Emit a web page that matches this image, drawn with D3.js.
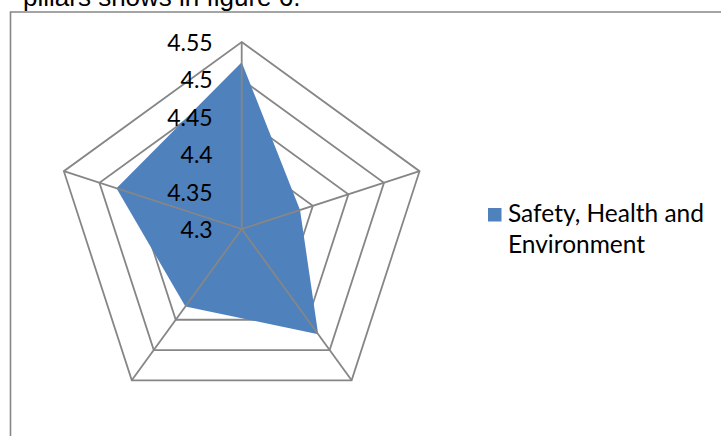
<!DOCTYPE html>
<html>
<head>
<meta charset="utf-8">
<script src="https://cdn.jsdelivr.net/npm/d3@7"></script>
<style>
  html, body { margin: 0; padding: 0; background: #fff; }
  svg { display: block; }
</style>
</head>
<body>
<svg id="chart" width="721" height="436"></svg>
<script>
// Radar chart: one series scored on five pillars
const categories = ["Pillar 1", "Pillar 2", "Pillar 3", "Pillar 4", "Pillar 5"];
const seriesName = "Safety, Health and Environment";
const seriesValues = [4.523, 4.382, 4.474, 4.428, 4.476];
const tickValues = [4.3, 4.35, 4.4, 4.45, 4.5, 4.55];
const tickLabels = ["4.3", "4.35", "4.4", "4.45", "4.5", "4.55"];
const captionText = "pillars shows in figure 6.";

const svg = d3.select("#chart");
const W = 721, H = 436;
const cx = 241.7, cy = 229, R = 187;
const gridColor = "#868686";
const fillColor = "#4F81BD";
const chartFont = "Lato, 'Open Sans', sans-serif";

// Body text line above the chart, partly cut off by the top edge
svg.append("text")
  .attr("x", 23).attr("y", 6)
  .attr("font-family", "'Liberation Sans', Arial, sans-serif")
  .attr("font-size", 26)
  .attr("fill", "#000")
  .text(captionText);

// Chart area frame
svg.append("path")
  .attr("d", `M10.5,${H + 2} V12 H${W + 2}`)
  .attr("fill", "none")
  .attr("stroke", gridColor)
  .attr("stroke-width", 1.6);

const r = d3.scaleLinear()
  .domain([tickValues[0], tickValues[tickValues.length - 1]])
  .range([0, R]);

const angle = d3.scalePoint()
  .domain(categories)
  .range([0, 2 * Math.PI * (categories.length - 1) / categories.length]);

const g = svg.append("g").attr("transform", `translate(${cx},${cy})`);

const radial = d3.lineRadial()
  .angle(d => angle(d.cat))
  .radius(d => r(d.v))
  .curve(d3.curveLinearClosed);

// Concentric pentagon gridlines (drawn under the series fill)
g.selectAll("path.ring")
  .data(tickValues.slice(1))
  .join("path")
  .attr("class", "ring")
  .attr("d", t => radial(categories.map(c => ({ cat: c, v: t }))))
  .attr("fill", "none")
  .attr("stroke", gridColor)
  .attr("stroke-width", 1.8);

// Filled series area
g.append("path")
  .datum(categories.map((c, i) => ({ cat: c, v: seriesValues[i] })))
  .attr("d", radial)
  .attr("fill", fillColor)
  .attr("stroke", "none");

// Spokes from centre to the outer ring
const maxV = tickValues[tickValues.length - 1];
g.selectAll("line.spoke")
  .data(categories)
  .join("line")
  .attr("class", "spoke")
  .attr("x1", 0).attr("y1", 0)
  .attr("x2", c => r(maxV) * Math.sin(angle(c)))
  .attr("y2", c => -r(maxV) * Math.cos(angle(c)))
  .attr("stroke", gridColor)
  .attr("stroke-width", 1.8);

// Value axis labels along the top spoke
g.selectAll("text.tick")
  .data(tickValues)
  .join("text")
  .attr("class", "tick")
  .attr("x", -29)
  .attr("y", t => -r(t) + 9)
  .attr("text-anchor", "end")
  .attr("font-family", chartFont)
  .attr("font-size", 23)
  .attr("fill", "#000")
  .text((t, i) => tickLabels[i]);

// Legend
const legend = svg.append("g").attr("transform", "translate(488,208)");
legend.append("rect")
  .attr("width", 13.5).attr("height", 13.5)
  .attr("fill", fillColor);
const legendText = legend.append("text")
  .attr("font-family", chartFont)
  .attr("font-size", 24.5)
  .attr("fill", "#000");
legendText.append("tspan").attr("x", 20).attr("y", 13.7).text("Safety, Health and");
legendText.append("tspan").attr("x", 20).attr("y", 45).text("Environment");
</script>
</body>
</html>
